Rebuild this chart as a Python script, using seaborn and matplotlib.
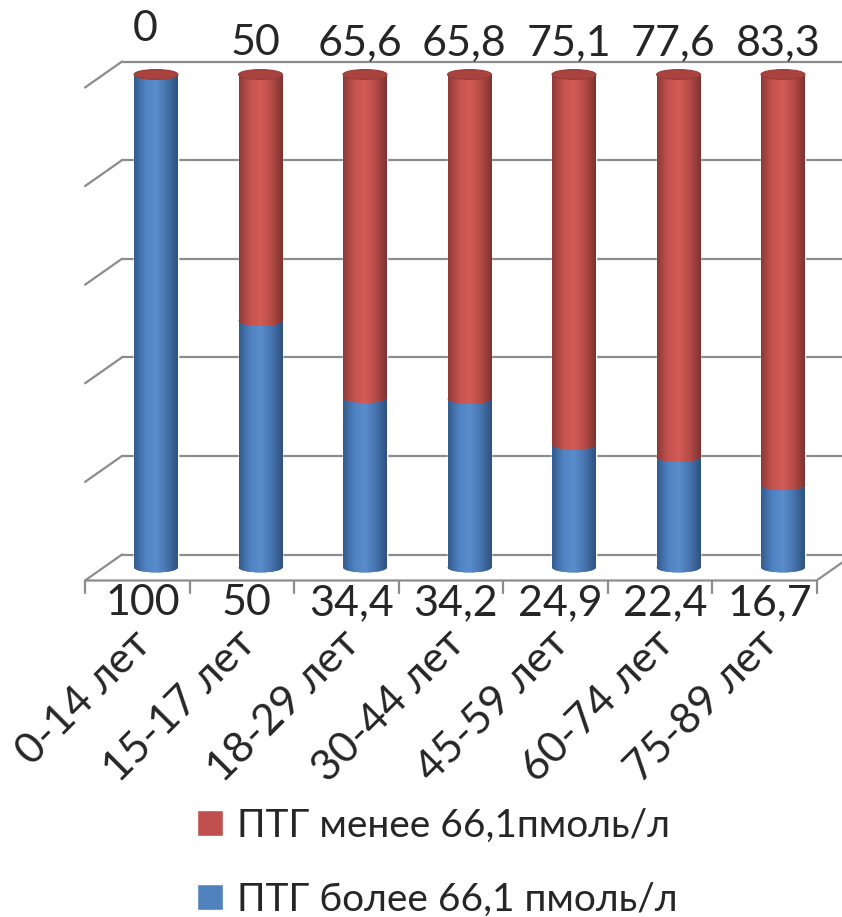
import numpy as np
import pandas as pd
import seaborn as sns
import matplotlib.pyplot as plt
from matplotlib.patches import Ellipse, Patch
from matplotlib.colors import LinearSegmentedColormap

# chart values
categories = ['0-14 лет', '15-17 лет', '18-29 лет', '30-44 лет', '45-59 лет', '60-74 лет', '75-89 лет']
ptg_more = [100, 50, 34.4, 34.2, 24.9, 22.4, 16.7]   # ПТГ более 66,1 (blue, bottom)
ptg_less = [0, 50, 65.6, 65.8, 75.1, 77.6, 83.3]     # ПТГ менее 66,1 (red, top)
legend_labels = ['ПТГ менее 66,1пмоль/л', 'ПТГ более 66,1 пмоль/л']

sns.set_style('white')
plt.rcParams['font.family'] = ['Lato', 'Open Sans', 'DejaVu Sans']

df = pd.DataFrame({'cat': categories, 'more': ptg_more, 'less': ptg_less})
df['total'] = df['more'] + df['less']

fig = plt.figure(figsize=(8.42, 9.17), dpi=100)
W, H = 842, 917
# layout in pixels: bar centres and value scale
x0, dx = 156, 104.5
y0, dy = 567.5, 4.93
xlim = (-0.75, (W - x0) / dx)
ylim = (-6, 105)
left = (x0 + xlim[0] * dx) / W
bottom = 1 - (y0 - ylim[0] * dy) / H
ax = fig.add_axes([left, bottom, 1 - left, (ylim[1] - ylim[0]) * dy / H])

red, blue = '#C0504D', '#4F81BD'
red_cm = LinearSegmentedColormap.from_list('r', ['#8f3a37', '#c4524e', '#d35c57', '#b54a46', '#7e3330'])
blue_cm = LinearSegmentedColormap.from_list('b', ['#345c8e', '#4f82c2', '#5a8dcc', '#4674ae', '#2f5280'])
bw = 0.42
cap_h = 2.0

sns.barplot(data=df, x='cat', y='total', color=red, width=bw, saturation=1, ax=ax)
sns.barplot(data=df, x='cat', y='more', color=blue, width=bw, saturation=1, ax=ax)

grad = np.linspace(0, 1, 64).reshape(1, -1)


def shade(patch, x, w, ylo, yhi, cmap, z):
    patch.set_zorder(z)
    im = ax.imshow(grad, cmap=cmap, extent=(x - w / 2, x + w / 2, ylo, yhi),
                   aspect='auto', zorder=z + 0.01, interpolation='bilinear')
    im.set_clip_path(patch)


n = len(categories)
for i, p in enumerate(ax.patches[:n]):
    shade(p, i, bw, 0, df['total'][i], red_cm, 2)
for i, p in enumerate(ax.patches[n:2 * n]):
    shade(p, i, bw, 0, df['more'][i], blue_cm, 3)
for i in range(n):
    e = Ellipse((i, 0), bw, cap_h, facecolor=blue, edgecolor='none')
    ax.add_patch(e)
    shade(e, i, bw, -cap_h, cap_h, blue_cm, 4)
    e = Ellipse((i, df['more'][i]), bw, cap_h, facecolor=red, edgecolor='none')
    ax.add_patch(e)
    shade(e, i, bw, df['more'][i] - cap_h, df['more'][i] + cap_h, red_cm, 5)
    ax.add_patch(Ellipse((i, df['total'][i]), bw, cap_h, facecolor='#a8433f',
                         edgecolor='#9a3c38', lw=0.8, zorder=6))

# 3d-ish walls: back wall grid, left diagonals, floor
off_x, off_y = 18.5 / dx, 13.0 / dy
gc = '#8c8c8c'
for v in range(0, 101, 20):
    ax.plot([-0.325, xlim[1] + 1], [v + off_y, v + off_y], color=gc, lw=1.6, zorder=1)
    ax.plot([-0.325, -0.325 - 2 * off_x], [v + off_y, v - off_y], color=gc, lw=1.6, zorder=1)
fl = -0.325 - 2 * off_x
fr = fl + n
ax.plot([fl, fr, fr + 2 * off_x], [-off_y, -off_y, off_y], color=gc, lw=1.6, zorder=1)
for k in range(n + 1):
    ax.plot([fl + k, fl + k], [-off_y, -off_y - 2.6], color=gc, lw=1.6, zorder=1)

fmt = lambda v: f'{v:g}'.replace('.', ',')
for i in range(n):
    ax.text(i - 0.13, -7.2, fmt(df['more'][i]), ha='center', va='center', fontsize=31)
    ytop = 109.2 if df['less'][i] == 0 else 106.4
    ax.text(i - 0.05 if df['less'][i] else i - 0.1, ytop, fmt(df['less'][i]),
            ha='center', va='center', fontsize=31)
    ax.text(i - 0.24, -11.4, categories[i], rotation=45, rotation_mode='anchor',
            ha='right', va='top', fontsize=31)

ax.set_xlim(*xlim)
ax.set_ylim(*ylim)
ax.set_aspect('auto')
ax.axis('off')

handles = [Patch(facecolor=red), Patch(facecolor=blue)]
fig.legend(handles, legend_labels, loc='upper left', bbox_to_anchor=(189 / W, 1 - 800 / H),
           frameon=False, fontsize=28, handlelength=0.67, handleheight=0.67,
           handletextpad=0.36, labelspacing=0.98, borderpad=0.2, borderaxespad=0)

fig.savefig('out.png', dpi=100)
